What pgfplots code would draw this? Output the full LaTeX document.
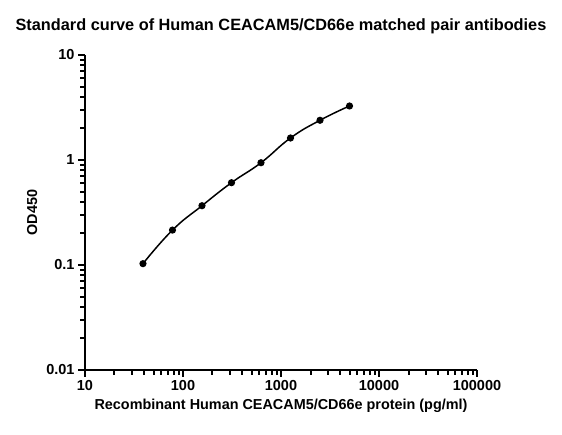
\documentclass[border=0pt]{standalone}
\usepackage{pgfplots}
\pgfplotsset{compat=1.18}
\usepackage{fontspec}
\setmainfont{Liberation Sans}
\usetikzlibrary{calc}
\begin{document}
\begin{tikzpicture}
\begin{axis}[
  scale only axis,
  width=392pt, height=315pt,
  xmode=log, ymode=log,
  xmin=10, xmax=100000, ymin=0.01, ymax=10,
  axis lines=left,
  axis line style={line width=2pt,-},
  tick style={line width=2pt,black},
  minor tick style={line width=2pt,black},
  tick align=outside,
  major tick length=7pt, minor tick length=5pt,
  xtick={10,100,1000,10000,100000},
  xticklabels={10,100,1000,10000,100000},
  minor xtick={20,30,40,50,60,70,80,90,200,300,400,500,600,700,800,900,2000,3000,4000,5000,6000,7000,8000,9000,20000,30000,40000,50000,60000,70000,80000,90000},
  ytick={0.01,0.1,1,10},
  yticklabels={0.01,0.1,1,10},
  minor ytick={0.02,0.03,0.04,0.05,0.06,0.07,0.08,0.09,0.2,0.3,0.4,0.5,0.6,0.7,0.8,0.9,2,3,4,5,6,7,8,9},
  /pgf/number format/assume math mode=true,
  tick label style={font=\fontsize{14.5}{16}\selectfont\bfseries},
  xlabel={Recombinant Human CEACAM5/CD66e protein (pg/ml)},
  ylabel={OD450},
  label style={font=\fontsize{14.4}{16}\selectfont\bfseries},
  xlabel style={yshift=-1pt},
  ylabel style={yshift=2pt},
  title={Standard curve of Human CEACAM5/CD66e matched pair antibodies},
  title style={font=\fontsize{16.3}{18}\selectfont\bfseries, yshift=12pt},
  clip=false,
]
\addplot[black, line width=1.5pt, smooth, tension=0.8, mark=*, mark size=2.8pt, mark options={solid,fill=black}]
  coordinates {
  (39.0625,0.103) (78.125,0.215) (156.25,0.367) (312.5,0.608)
  (625,0.942) (1250,1.62) (2500,2.39) (5000,3.27)
  };
\end{axis}
\useasboundingbox ($(current axis.south west)+(-85pt,-64pt)$) rectangle ($(current axis.north east)+(85pt,55pt)$);
\end{tikzpicture}
\end{document}
